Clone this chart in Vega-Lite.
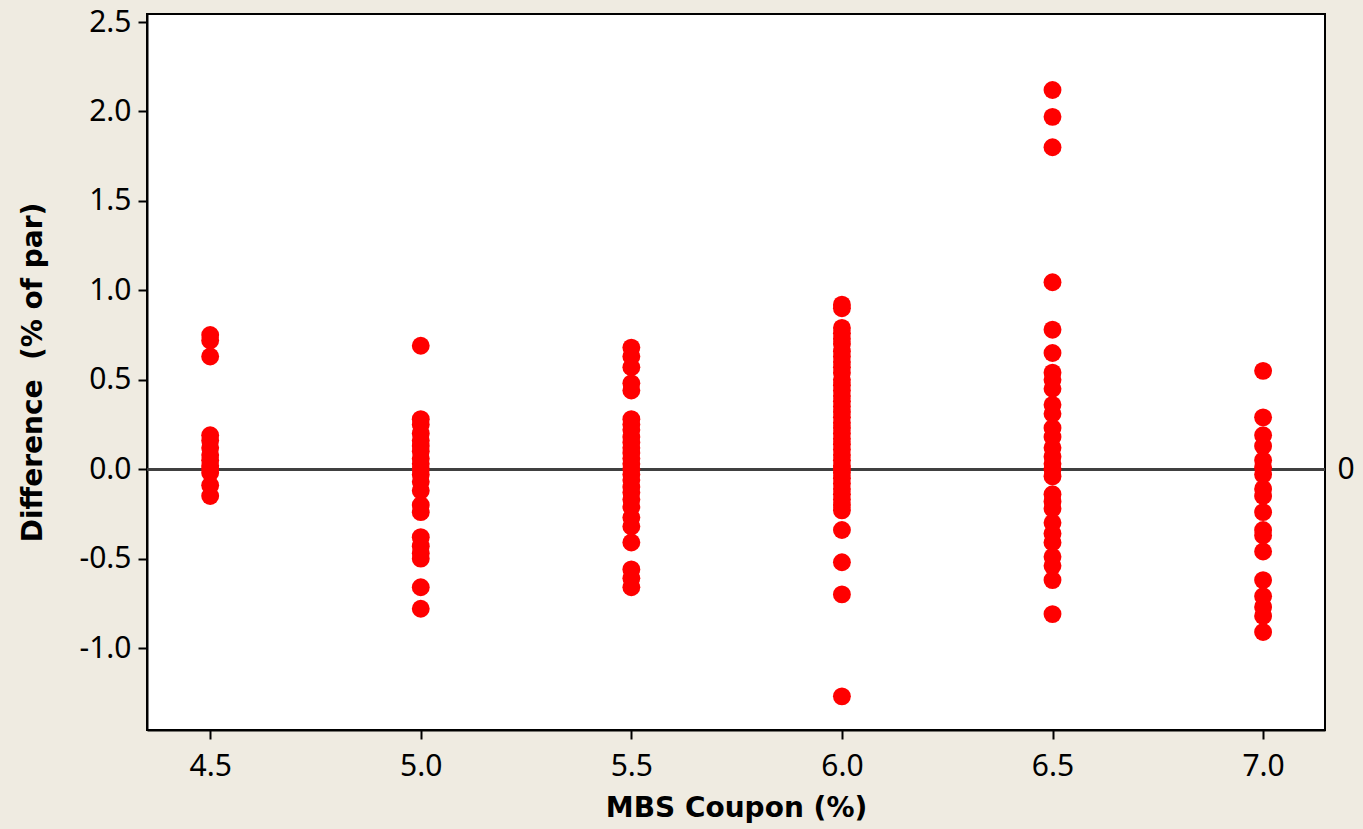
{
  "$schema": "https://vega.github.io/schema/vega-lite/v6.json",
  "autosize": "none",
  "width": 1178,
  "height": 716,
  "padding": {"left": 147, "top": 14, "right": 38, "bottom": 99},
  "background": "#EFEBE1",
  "config": {
    "view": {"stroke": "#000000", "strokeWidth": 2, "fill": "#FFFFFF"},
    "font": "Noto Sans"
  },
  "data": {"values": [
    {"coupon": 4.5, "diff": 0.75}, {"coupon": 4.5, "diff": 0.72}, {"coupon": 4.5, "diff": 0.63},
    {"coupon": 4.5, "diff": 0.19}, {"coupon": 4.5, "diff": 0.16}, {"coupon": 4.5, "diff": 0.12},
    {"coupon": 4.5, "diff": 0.08}, {"coupon": 4.5, "diff": 0.05}, {"coupon": 4.5, "diff": 0.02},
    {"coupon": 4.5, "diff": 0.0}, {"coupon": 4.5, "diff": -0.02}, {"coupon": 4.5, "diff": -0.09},
    {"coupon": 4.5, "diff": -0.15},

    {"coupon": 5.0, "diff": 0.69}, {"coupon": 5.0, "diff": 0.28}, {"coupon": 5.0, "diff": 0.25},
    {"coupon": 5.0, "diff": 0.2}, {"coupon": 5.0, "diff": 0.16}, {"coupon": 5.0, "diff": 0.13},
    {"coupon": 5.0, "diff": 0.1}, {"coupon": 5.0, "diff": 0.06}, {"coupon": 5.0, "diff": 0.03},
    {"coupon": 5.0, "diff": 0.0}, {"coupon": 5.0, "diff": -0.03}, {"coupon": 5.0, "diff": -0.07},
    {"coupon": 5.0, "diff": -0.12}, {"coupon": 5.0, "diff": -0.2}, {"coupon": 5.0, "diff": -0.24},
    {"coupon": 5.0, "diff": -0.38}, {"coupon": 5.0, "diff": -0.43}, {"coupon": 5.0, "diff": -0.47},
    {"coupon": 5.0, "diff": -0.5}, {"coupon": 5.0, "diff": -0.66}, {"coupon": 5.0, "diff": -0.78},

    {"coupon": 5.5, "diff": 0.68}, {"coupon": 5.5, "diff": 0.63}, {"coupon": 5.5, "diff": 0.57},
    {"coupon": 5.5, "diff": 0.48}, {"coupon": 5.5, "diff": 0.44}, {"coupon": 5.5, "diff": 0.28},
    {"coupon": 5.5, "diff": 0.25}, {"coupon": 5.5, "diff": 0.22}, {"coupon": 5.5, "diff": 0.18},
    {"coupon": 5.5, "diff": 0.15}, {"coupon": 5.5, "diff": 0.12}, {"coupon": 5.5, "diff": 0.09},
    {"coupon": 5.5, "diff": 0.06}, {"coupon": 5.5, "diff": 0.03}, {"coupon": 5.5, "diff": 0.0},
    {"coupon": 5.5, "diff": -0.03}, {"coupon": 5.5, "diff": -0.06}, {"coupon": 5.5, "diff": -0.1},
    {"coupon": 5.5, "diff": -0.13}, {"coupon": 5.5, "diff": -0.17}, {"coupon": 5.5, "diff": -0.21},
    {"coupon": 5.5, "diff": -0.27}, {"coupon": 5.5, "diff": -0.32}, {"coupon": 5.5, "diff": -0.41},
    {"coupon": 5.5, "diff": -0.56}, {"coupon": 5.5, "diff": -0.61}, {"coupon": 5.5, "diff": -0.66},

    {"coupon": 6.0, "diff": 0.92}, {"coupon": 6.0, "diff": 0.9}, {"coupon": 6.0, "diff": 0.79},
    {"coupon": 6.0, "diff": 0.76}, {"coupon": 6.0, "diff": 0.73}, {"coupon": 6.0, "diff": 0.7},
    {"coupon": 6.0, "diff": 0.66}, {"coupon": 6.0, "diff": 0.63}, {"coupon": 6.0, "diff": 0.6},
    {"coupon": 6.0, "diff": 0.57}, {"coupon": 6.0, "diff": 0.54}, {"coupon": 6.0, "diff": 0.5},
    {"coupon": 6.0, "diff": 0.47}, {"coupon": 6.0, "diff": 0.44}, {"coupon": 6.0, "diff": 0.41},
    {"coupon": 6.0, "diff": 0.38}, {"coupon": 6.0, "diff": 0.35}, {"coupon": 6.0, "diff": 0.32},
    {"coupon": 6.0, "diff": 0.29}, {"coupon": 6.0, "diff": 0.26}, {"coupon": 6.0, "diff": 0.23},
    {"coupon": 6.0, "diff": 0.2}, {"coupon": 6.0, "diff": 0.17}, {"coupon": 6.0, "diff": 0.14},
    {"coupon": 6.0, "diff": 0.11}, {"coupon": 6.0, "diff": 0.08}, {"coupon": 6.0, "diff": 0.05},
    {"coupon": 6.0, "diff": 0.02}, {"coupon": 6.0, "diff": 0.0}, {"coupon": 6.0, "diff": -0.02},
    {"coupon": 6.0, "diff": -0.05}, {"coupon": 6.0, "diff": -0.08}, {"coupon": 6.0, "diff": -0.11},
    {"coupon": 6.0, "diff": -0.14}, {"coupon": 6.0, "diff": -0.17}, {"coupon": 6.0, "diff": -0.2},
    {"coupon": 6.0, "diff": -0.23}, {"coupon": 6.0, "diff": -0.34}, {"coupon": 6.0, "diff": -0.52},
    {"coupon": 6.0, "diff": -0.7}, {"coupon": 6.0, "diff": -1.27},

    {"coupon": 6.5, "diff": 2.12}, {"coupon": 6.5, "diff": 1.97}, {"coupon": 6.5, "diff": 1.8},
    {"coupon": 6.5, "diff": 1.045}, {"coupon": 6.5, "diff": 0.78}, {"coupon": 6.5, "diff": 0.65},
    {"coupon": 6.5, "diff": 0.54}, {"coupon": 6.5, "diff": 0.5}, {"coupon": 6.5, "diff": 0.45},
    {"coupon": 6.5, "diff": 0.36}, {"coupon": 6.5, "diff": 0.31}, {"coupon": 6.5, "diff": 0.23},
    {"coupon": 6.5, "diff": 0.18}, {"coupon": 6.5, "diff": 0.12}, {"coupon": 6.5, "diff": 0.07},
    {"coupon": 6.5, "diff": 0.03}, {"coupon": 6.5, "diff": 0.0}, {"coupon": 6.5, "diff": -0.04},
    {"coupon": 6.5, "diff": -0.14}, {"coupon": 6.5, "diff": -0.18}, {"coupon": 6.5, "diff": -0.22},
    {"coupon": 6.5, "diff": -0.3}, {"coupon": 6.5, "diff": -0.36}, {"coupon": 6.5, "diff": -0.41},
    {"coupon": 6.5, "diff": -0.49}, {"coupon": 6.5, "diff": -0.54}, {"coupon": 6.5, "diff": -0.62},
    {"coupon": 6.5, "diff": -0.81},

    {"coupon": 7.0, "diff": 0.55}, {"coupon": 7.0, "diff": 0.29}, {"coupon": 7.0, "diff": 0.19},
    {"coupon": 7.0, "diff": 0.13}, {"coupon": 7.0, "diff": 0.05}, {"coupon": 7.0, "diff": 0.01},
    {"coupon": 7.0, "diff": -0.03}, {"coupon": 7.0, "diff": -0.11}, {"coupon": 7.0, "diff": -0.15},
    {"coupon": 7.0, "diff": -0.24}, {"coupon": 7.0, "diff": -0.34}, {"coupon": 7.0, "diff": -0.37},
    {"coupon": 7.0, "diff": -0.46}, {"coupon": 7.0, "diff": -0.62}, {"coupon": 7.0, "diff": -0.71},
    {"coupon": 7.0, "diff": -0.77}, {"coupon": 7.0, "diff": -0.82}, {"coupon": 7.0, "diff": -0.91}
  ]},
  "layer": [
    {
      "mark": {"type": "rule", "color": "#404040", "strokeWidth": 2},
      "encoding": {
        "y": {"datum": 0, "type": "quantitative",
          "scale": {"domain": [-1.458, 2.545], "nice": false, "zero": false},
          "axis": {"orient": "right", "values": [0], "ticks": false, "domain": false, "title": null, "grid": false,
            "labelPadding": 12, "format": "d", "labelFont": "Noto Sans", "labelFontSize": 30, "labelColor": "#000000"}}
      }
    },
    {
      "mark": {"type": "circle", "color": "#FF0000", "opacity": 1, "size": 320},
      "encoding": {
        "x": {"field": "coupon", "type": "quantitative",
          "scale": {"domain": [4.35, 7.147], "nice": false, "zero": false},
          "axis": {"values": [4.5, 5.0, 5.5, 6.0, 6.5, 7.0], "format": ".1f", "title": "MBS Coupon (%)", "grid": false,
            "domainColor": "#000000", "domainWidth": 2, "tickColor": "#000000", "tickWidth": 2, "tickSize": 9,
            "labelFont": "Noto Sans", "labelFontSize": 30, "labelColor": "#000000", "labelPadding": 12,
            "titleFont": "DejaVu Sans", "titleFontSize": 28, "titleFontWeight": "bold", "titleColor": "#000000", "titlePadding": 13}},
        "y": {"field": "diff", "type": "quantitative",
          "scale": {"domain": [-1.458, 2.545], "nice": false, "zero": false},
          "axis": {"orient": "left", "values": [-1.0, -0.5, 0.0, 0.5, 1.0, 1.5, 2.0, 2.5], "grid": false,
            "labelExpr": "replace(format(datum.value, '.1f'), '−', '-')",
            "domainColor": "#000000", "domainWidth": 2, "tickColor": "#000000", "tickWidth": 2, "tickSize": 9,
            "labelFont": "Noto Sans", "labelFontSize": 30, "labelColor": "#000000", "labelPadding": 7,
            "title": "Difference\u00a0 (% of par)", "titleFont": "DejaVu Sans", "titleFontSize": 28, "titleFontWeight": "bold", "titleColor": "#000000", "titlePadding": 31}}
      }
    }
  ],
  "resolve": {"scale": {"y": "shared"}, "axis": {"y": "independent"}}
}
